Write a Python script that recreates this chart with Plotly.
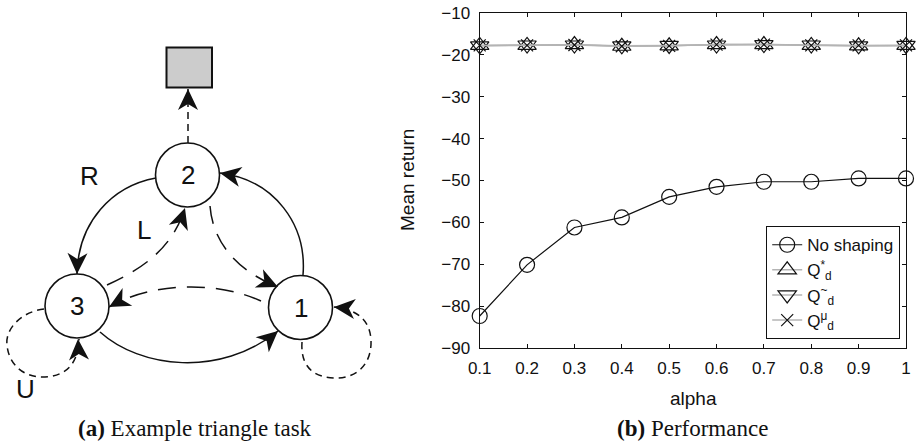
import math
import plotly.graph_objects as go

W, H = 917, 443

# ---------------- data (panel b) ----------------
alpha = [0.1, 0.2, 0.3, 0.4, 0.5, 0.6, 0.7, 0.8, 0.9, 1.0]
alpha_labels = ["0.1", "0.2", "0.3", "0.4", "0.5", "0.6", "0.7", "0.8", "0.9", "1"]
no_shaping = [-82.3, -70.1, -61.2, -58.8, -53.9, -51.5, -50.3, -50.3, -49.5, -49.5]
q_star = [-17.8, -17.8, -17.6, -18.0, -17.9, -17.6, -17.6, -17.8, -17.9, -17.8]
q_tilde = [-17.9, -17.7, -17.7, -17.9, -17.8, -17.7, -17.6, -17.7, -17.9, -17.8]
q_mu = [-17.8, -17.8, -17.7, -18.0, -17.9, -17.6, -17.6, -17.8, -17.8, -17.8]
y_ticks = [-90, -80, -70, -60, -50, -40, -30, -20, -10]

# ---------------- diagram (panel a) ----------------
node_labels = ["1", "2", "3"]
node_centers = {"1": (300.5, 307.5), "2": (187.5, 175.0), "3": (77.0, 306.0)}
NODE_R = 32
goal_box = (166.5, 47.5, 212.0, 87.5)
edge_labels = [("R", 89, 176), ("L", 144, 230), ("U", 25, 389)]

SOLID = "solid"
LONG = "18px,11px"
SHORT = "7px,5px"
edges = [
    dict(path=[("M", (188, 143)), ("L", (188, 89))], dash=SHORT, arrow=((188, 112), (188, 89))),
    dict(path=[("M", (156, 178)), ("C", (112, 186), (78, 222), (77, 274))], dash=SOLID,
         arrow=((77.5, 252), (77, 274))),
    dict(path=[("M", (303, 275)), ("C", (307, 225), (275, 180), (220, 173))], dash=SOLID,
         arrow=((241, 177), (220, 173))),
    dict(path=[("M", (107, 285)), ("C", (140, 270), (172, 250), (185, 208))], dash=LONG,
         arrow=((178, 229), (185, 208))),
    dict(path=[("M", (210, 206)), ("C", (213, 245), (240, 272), (278, 287))], dash=LONG,
         arrow=((258, 278), (278, 287))),
    dict(path=[("M", (261, 301)), ("C", (215, 280), (150, 283), (109, 307))], dash=LONG,
         arrow=((129, 296), (109, 307))),
    dict(path=[("M", (100, 332)), ("C", (140, 368), (220, 378), (278, 331))], dash=SOLID,
         arrow=((262, 345), (278, 331))),
    dict(path=[("M", (44, 309)), ("C", (20, 312), (5, 330), (7, 345)),
               ("C", (9, 366), (25, 377), (42, 377)), ("C", (62, 377), (78, 368), (79, 339))],
         dash=SHORT, arrow=((79, 360), (78, 339))),
    dict(path=[("M", (302, 342)), ("C", (300, 372), (320, 378), (336, 378)),
               ("C", (356, 378), (372, 365), (371, 340)), ("C", (370, 322), (360, 310), (334, 307))],
         dash=SHORT, arrow=((355, 309), (334, 307))),
]


def P(x, y):
    return x / W, 1 - y / H


def fmt(pt):
    x, y = P(*pt)
    return f"{x:.5f},{y:.5f}"


def path_string(cmds):
    return " ".join(c[0] + " " + " ".join(fmt(p) for p in c[1:]) for c in cmds)


def arrow_head(frm, tip, L=21, Wd=10, notch=6):
    dx, dy = tip[0] - frm[0], tip[1] - frm[1]
    n = math.hypot(dx, dy)
    ux, uy = dx / n, dy / n
    px_, py_ = -uy, ux
    bx, by = tip[0] - L * ux, tip[1] - L * uy
    p1 = (bx + Wd * px_, by + Wd * py_)
    p2 = (tip[0] - (L - notch) * ux, tip[1] - (L - notch) * uy)
    p3 = (bx - Wd * px_, by - Wd * py_)
    return f"M {fmt(tip)} L {fmt(p1)} L {fmt(p2)} L {fmt(p3)} Z"


shapes = []
for e in edges:
    shapes.append(dict(type="path", xref="paper", yref="paper", path=path_string(e["path"]),
                       line=dict(color="#111111", width=1.5, dash=e["dash"]),
                       fillcolor="rgba(0,0,0,0)", layer="above"))
gx0, gy0 = P(goal_box[0], goal_box[3])
gx1, gy1 = P(goal_box[2], goal_box[1])
shapes.append(dict(type="rect", xref="paper", yref="paper", x0=gx0, y0=gy0, x1=gx1, y1=gy1,
                   fillcolor="#cccccc", line=dict(color="#111111", width=2), layer="above"))
for k in node_labels:
    cx, cy = node_centers[k]
    x0, y0 = P(cx - NODE_R, cy + NODE_R)
    x1, y1 = P(cx + NODE_R, cy - NODE_R)
    shapes.append(dict(type="circle", xref="paper", yref="paper", x0=x0, y0=y0, x1=x1, y1=y1,
                       fillcolor="white", line=dict(color="#111111", width=1.6), layer="above"))
for e in edges:
    frm, tip = e["arrow"]
    shapes.append(dict(type="path", xref="paper", yref="paper", path=arrow_head(frm, tip),
                       fillcolor="#111111", line=dict(width=0), layer="above"))

annotations = []
diag_font = dict(family="Liberation Sans", size=26, color="#111111")
for k in node_labels:
    cx, cy = node_centers[k]
    x, y = P(cx, cy)
    annotations.append(dict(text=k, x=x, y=y, xref="paper", yref="paper", showarrow=False,
                            xanchor="center", yanchor="middle", font=diag_font))
for t, lx, ly in edge_labels:
    x, y = P(lx, ly)
    annotations.append(dict(text=t, x=x, y=y, xref="paper", yref="paper", showarrow=False,
                            xanchor="center", yanchor="middle", font=diag_font))

cap_font = dict(family="Liberation Serif", size=23, color="#111111")
for txt, cx in [("<b>(a)</b> Example triangle task", 195), ("<b>(b)</b> Performance", 692)]:
    x, y = P(cx, 428)
    annotations.append(dict(text=txt, x=x, y=y, xref="paper", yref="paper", showarrow=False,
                            xanchor="center", yanchor="middle", font=cap_font))
title_font = dict(family="Liberation Sans", size=19, color="#111111")
x, y = P(693, 398)
annotations.append(dict(text="alpha", x=x, y=y, xref="paper", yref="paper", showarrow=False,
                        xanchor="center", yanchor="middle", font=title_font))
x, y = P(408, 180)
annotations.append(dict(text="Mean return", x=x, y=y, xref="paper", yref="paper", showarrow=False,
                        xanchor="center", yanchor="middle", textangle=-90, font=title_font))

fig = go.Figure()
gray = "#b4b4b4"
fig.add_trace(go.Scatter(x=alpha, y=no_shaping, name="No shaping", mode="lines+markers",
                         line=dict(color="#111111", width=1.2), cliponaxis=False,
                         marker=dict(symbol="circle-open", size=15, color="#111111",
                                     line=dict(width=1.2))))
fig.add_trace(go.Scatter(x=alpha, y=q_star, name="Q<sup>*</sup><sub>d</sub>", mode="lines+markers",
                         line=dict(color=gray, width=1.5), cliponaxis=False,
                         marker=dict(symbol="triangle-up-open", size=16, color="#111111",
                                     line=dict(width=1.2))))
fig.add_trace(go.Scatter(x=alpha, y=q_tilde, name="Q<sup>~</sup><sub>d</sub>", mode="lines+markers",
                         line=dict(color=gray, width=1.5), cliponaxis=False,
                         marker=dict(symbol="triangle-down-open", size=16, color="#111111",
                                     line=dict(width=1.2))))
fig.add_trace(go.Scatter(x=alpha, y=q_mu, name="Q<sup>μ</sup><sub>d</sub>", mode="lines+markers",
                         line=dict(color=gray, width=1.5), cliponaxis=False,
                         marker=dict(symbol="x-thin-open", size=12, color="#111111",
                                     line=dict(width=1.2, color="#111111"))))

axis_font = dict(family="Liberation Sans", size=17, color="#111111")
fig.update_layout(
    width=W, height=H,
    margin=dict(l=0, r=0, t=0, b=0, pad=0, autoexpand=False),
    paper_bgcolor="white", plot_bgcolor="white",
    shapes=shapes, annotations=annotations,
    xaxis=dict(domain=[479.7 / W, 906 / W], range=[0.1, 1.0], tickvals=alpha, ticktext=alpha_labels,
               ticks="inside", ticklen=4, tickcolor="#111111", showline=True, linecolor="#111111",
               linewidth=1.2, mirror="ticks", showgrid=False, zeroline=False, tickfont=axis_font,
               ticklabelstandoff=4, automargin=False),
    yaxis=dict(domain=[1 - 348.3 / H, 1 - 12.7 / H], range=[-90, -10], tickvals=y_ticks,
               ticks="inside", ticklen=4, tickcolor="#111111", showline=True, linecolor="#111111",
               linewidth=1.2, mirror="ticks", showgrid=False, zeroline=False, tickfont=axis_font,
               ticklabelstandoff=5, automargin=False),
    legend=dict(x=900 / W, y=1 - 226 / H, xanchor="right", yanchor="top", bgcolor="white",
                bordercolor="#111111", borderwidth=1.2, traceorder="normal",
                font=dict(family="Liberation Sans", size=17, color="#111111"), tracegroupgap=0),
    showlegend=True,
)

fig.write_html("out.html")
